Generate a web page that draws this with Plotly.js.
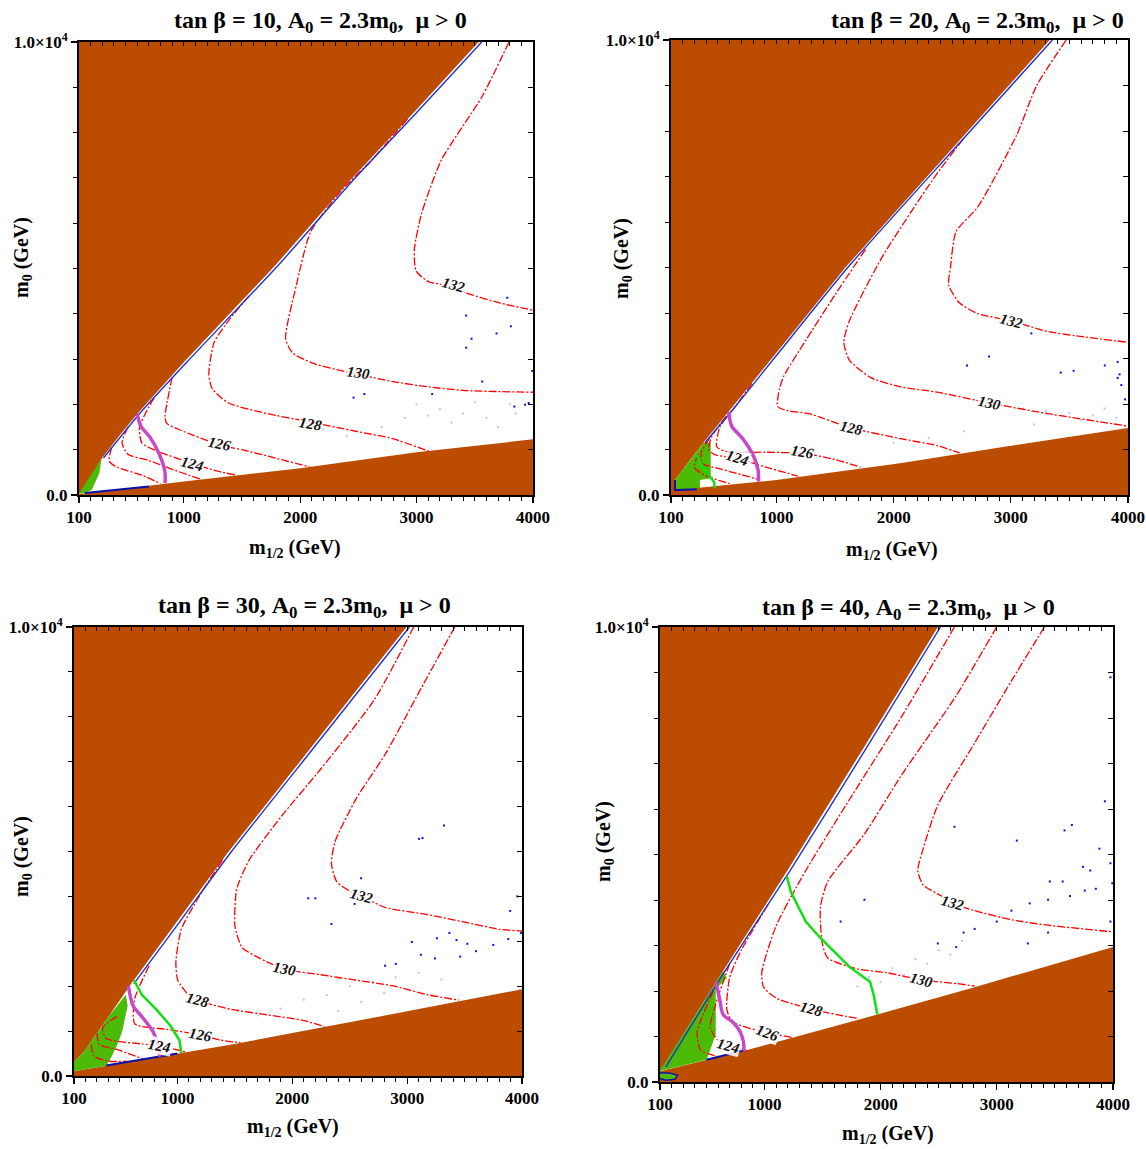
<!DOCTYPE html>
<html>
<head>
<meta charset="utf-8">
<script src="https://cdn.plot.ly/plotly-3.0.1.min.js"></script>
<style>html,body{margin:0;padding:0;background:#fff;}#plot{width:1146px;height:1149px;}</style>
</head>
<body>
<div id="plot"></div>
<script>
// ---------------- axis / label data ----------------
const X_RANGE = [100, 4000];
const Y_RANGE = [0, 10000];
const xTickVals = [100, 1000, 2000, 3000, 4000];
const xTickText = ["100", "1000", "2000", "3000", "4000"];
const yTickVals = [0, 10000];
const yTickText = ["0.0", "1.0×10<sup>4</sup>"];
const tanBeta = ["10", "20", "30", "40"];
const contourLevels = ["124", "126", "128", "130", "132"];

// ---------------- panel 1 : tan beta = 10 ----------------
const p1UpperX = [100, 150, 298, 450, 607, 1000, 1783, 2412, 3000, 3533];
const p1UpperY = [30, 150, 817, 1320, 1810, 2930, 5060, 6900, 8510, 10000];
const p1LowerX = [100, 500, 1000, 2000, 3000, 4000];
const p1LowerY = [15, 140, 300, 590, 945, 1228];
const p1GreenX = [100, 294, 275, 237, 209, 140, 100];
const p1GreenY = [30, 810, 479, 258, 110, 40, 20];
const p1MagX = [600, 631, 708, 785, 837, 840];
const p1MagY = [1795, 1520, 1283, 929, 535, 260];
const p1LimeX = [];
const p1LimeY = [];
const p1StripX = [310, 625, 1025, 1808, 2437, 3025, 3560];
const p1StripY = [817, 1810, 2930, 5060, 6900, 8510, 10000];
const p1BotX = [150, 400, 700];
const p1BotY = [45, 110, 185];
const p1C120X = [380, 360, 420, 650, 800];
const p1C120Y = [1050, 750, 620, 430, 250];
const p1C122X = [520, 470, 520, 700, 950, 1150];
const p1C122Y = [1500, 1150, 900, 760, 520, 345];
const p1C124X = [745, 620, 640, 760, 1077, 1300, 1450];
const p1C124Y = [2150, 1500, 1150, 980, 693, 520, 440];
const p1C126X = [900, 839, 853, 968, 1311, 1509, 1741, 2080];
const p1C126Y = [2600, 1729, 1583, 1435, 1104, 994, 846, 620];
const p1C128X = [1560, 1400, 1261, 1215, 1245, 1384, 1721, 2029, 2489, 2796, 3103];
const p1C128Y = [4394, 3900, 3370, 2661, 2346, 2031, 1795, 1638, 1402, 1244, 968];
const p1C130X = [2920, 2612, 2366, 2090, 1967, 1875, 1936, 2121, 2428, 2796, 3103, 3410, 4000];
const p1C130Y = [8300, 7386, 6756, 5811, 4630, 3449, 3134, 2898, 2701, 2504, 2386, 2307, 2268];
const p1C132X = [3794, 3564, 3211, 3042, 2981, 2996, 3103, 3257, 3410, 3718, 4000];
const p1C132Y = [10000, 8803, 7386, 6205, 5417, 4945, 4709, 4630, 4472, 4236, 4079];
const p1LabelX = [1077, 1307, 2090, 2505, 3318];
const p1LabelY = [693, 1126, 1559, 2701, 4630];
const p1DotX = [3779, 3426, 3810, 3687, 3472, 3426, 3994, 2459, 2551, 3134, 3564, 3840, 3932, 3963];
const p1DotY = [4354, 3961, 3724, 3567, 3449, 3252, 2740, 2150, 2228, 2228, 2504, 1953, 1992, 2031];
const p1FaintX = [3000, 3200, 3400, 3600, 3300, 3700, 3850, 2900, 2700, 2400, 3500, 3800, 2200, 3100];
const p1FaintY = [2000, 1900, 1800, 1700, 1600, 1500, 1800, 1700, 1500, 1300, 2050, 2000, 1450, 1750];

// ---------------- panel 2 : tan beta = 20 ----------------
const p2UpperX = [100, 125, 134, 305, 376, 598, 1000, 1590, 2500, 3332];
const p2UpperY = [0, 40, 330, 901, 1150, 1853, 3131, 5004, 7616, 10000];
const p2LowerX = [100, 149, 1000, 2054, 3000, 4000];
const p2LowerY = [60, 110, 330, 697, 1080, 1472];
const p2GreenX = [134, 134, 305, 376, 439, 439, 347, 347, 149];
const p2GreenY = [110, 330, 901, 1150, 1150, 367, 330, 147, 110];
const p2MagX = [593, 618, 712, 806, 844, 847];
const p2MagY = [1827, 1514, 1239, 847, 533, 298];
const p2LimeX = [315, 362, 433, 467, 475];
const p2LimeY = [890, 659, 402, 292, 147];
const p2StripX = [390, 620, 1020, 1610, 2520, 3355];
const p2StripY = [1150, 1853, 3131, 5004, 7616, 10000];
const p2BotX = [134, 134, 149, 320];
const p2BotY = [330, 110, 110, 125];
const p2C120X = [330, 300, 400, 600];
const p2C120Y = [900, 600, 420, 250];
const p2C122X = [430, 360, 360, 450, 700, 850];
const p2C122Y = [1250, 950, 700, 620, 450, 340];
const p2C124X = [570, 450, 420, 480, 665, 900, 1182];
const p2C124Y = [1730, 1300, 1000, 880, 808, 620, 416];
const p2C126X = [790, 650, 518, 490, 575, 900, 1229, 1500, 1716];
const p2C126Y = [2450, 1950, 1501, 1062, 952, 940, 916, 780, 612];
const p2C128X = [1760, 1500, 1250, 1060, 1026, 1010, 1100, 1277, 1637, 2061, 2375, 2563];
const p2C128Y = [5400, 4400, 3400, 2600, 2337, 1945, 1850, 1788, 1474, 1239, 1082, 925];
const p2C130X = [2594, 2343, 1904, 1622, 1575, 1622, 1810, 2061, 2375, 2814, 3316, 4000];
const p2C130Y = [7827, 6964, 5239, 3827, 3357, 2965, 2573, 2376, 2259, 2023, 1788, 1514];
const p2C132X = [3473, 3222, 3049, 2720, 2532, 2485, 2469, 2563, 2720, 3002, 3316, 3630, 4000];
const p2C132Y = [10000, 9004, 7906, 6337, 5788, 5004, 4612, 4220, 3984, 3827, 3592, 3474, 3357];
const p2LabelX = [665, 1220, 1637, 2814, 3002];
const p2LabelY = [808, 941, 1474, 2023, 3827];
const p2DotX = [3175, 2814, 2626, 3426, 3536, 3802, 3912, 3928, 3943, 3912, 3975];
const p2DotY = [3553, 3043, 2847, 2690, 2729, 2847, 2925, 2651, 2416, 2573, 2102];
const p2FaintX = [2900, 3100, 3300, 3500, 3700, 3900, 3200, 3600, 2600, 2300, 3800, 2000];
const p2FaintY = [2000, 1900, 1850, 1800, 1750, 1700, 1550, 1650, 1400, 1250, 1900, 1150];

// ---------------- panel 3 : tan beta = 30 ----------------
const p3UpperX = [100, 193, 400, 598, 1000, 1438, 2200, 2995];
const p3UpperY = [300, 560, 1322, 2052, 3451, 4972, 7433, 10000];
const p3LowerX = [100, 1500, 2750, 4000];
const p3LowerY = [105, 714, 1322, 1930];
const p3GreenX = [100, 100, 193, 400, 551, 567, 520, 473, 411, 380, 100];
const p3GreenY = [105, 300, 560, 1322, 1809, 1565, 998, 673, 349, 227, 105];
const p3MagX = [573, 614, 691, 785, 831, 847];
const p3MagY = [2011, 1565, 1322, 998, 673, 430];
const p3LimeX = [623, 691, 816, 940, 1018, 1034];
const p3LimeY = [2133, 1809, 1484, 1119, 795, 511];
const p3StripX = [620, 1025, 1463, 2225, 3020];
const p3StripY = [2052, 3451, 4972, 7433, 10000];
const p3BotX = [380, 1000];
const p3BotY = [235, 500];
const p3C120X = [250, 270, 400, 560];
const p3C120Y = [700, 450, 330, 330];
const p3C122X = [300, 320, 473, 700];
const p3C122Y = [950, 700, 592, 380];
const p3C124X = [473, 349, 380, 691, 847, 1065];
const p3C124Y = [1322, 1079, 835, 714, 673, 540];
const p3C126X = [754, 629, 629, 909, 1205, 1376, 1550];
const p3C126Y = [2457, 1727, 1160, 1038, 916, 800, 740];
const p3C128X = [1392, 1189, 1034, 987, 1003, 1096, 1174, 1469, 1781, 2092, 2280];
const p3C128Y = [4809, 3998, 3268, 2538, 2133, 1809, 1687, 1484, 1362, 1241, 1100];
const p3C130X = [3057, 2714, 2248, 1905, 1625, 1516, 1501, 1563, 1718, 1936, 2248, 2559, 2870, 3181, 3450];
const p3C130Y = [10000, 8378, 6837, 5782, 4809, 4160, 3349, 2863, 2620, 2376, 2255, 2133, 2011, 1809, 1690];
const p3C132X = [3415, 3119, 2808, 2559, 2372, 2341, 2388, 2528, 2606, 2808, 3181, 3493, 3804, 4000];
const p3C132Y = [10000, 8621, 7161, 6188, 5215, 4728, 4323, 4079, 3998, 3755, 3593, 3431, 3268, 3228];
const p3LabelX = [847, 1205, 1174, 1936, 2606];
const p3LabelY = [673, 916, 1687, 2376, 3998];
const p3DotX = [3321, 3103, 3134, 2599, 2139, 2201, 2341, 2543, 3959, 3897, 3368, 3430, 3259, 3524, 3041, 3119, 3243, 2808, 2901, 3462, 3600, 3750, 3880, 3991];
const p3DotY = [5580, 5282, 5299, 4404, 3958, 3958, 3387, 3833, 4000, 3677, 3187, 3025, 3068, 2944, 2984, 2701, 2619, 2457, 2498, 2660, 2780, 2920, 3050, 3187];
const p3FaintX = [2500, 2700, 2900, 3100, 2300, 2100, 1900, 2600, 2800, 3300, 1700, 2400];
const p3FaintY = [2000, 2100, 2200, 2300, 1800, 1700, 1500, 1650, 1850, 2150, 1350, 1450];

// ---------------- panel 4 : tan beta = 40 ----------------
const p4UpperX = [100, 122, 644, 1197, 1850, 2492];
const p4UpperY = [250, 320, 2444, 4648, 7332, 10000];
const p4LowerX = [100, 817, 1971, 2808, 4000];
const p4LowerY = [235, 681, 1482, 2083, 2965];
const p4GreenX = [100, 644, 675, 580, 580, 533, 501, 100];
const p4GreenY = [250, 2444, 2284, 2043, 1042, 721, 487, 240];
const p4BlobX = [100, 180, 250, 230, 150, 100];
const p4BlobY = [200, 200, 150, 60, 40, 80];
const p4MagX = [580, 612, 644, 723, 786, 818, 824];
const p4MagY = [2204, 1843, 1482, 1322, 1122, 881, 681];
const p4LimeX = [1190, 1228, 1355, 1481, 1734, 1908, 1939, 1971];
const p4LimeY = [4527, 4167, 3526, 3165, 2524, 2204, 1923, 1482];
const p4StripX = [150, 660, 1220, 1875, 2515];
const p4StripY = [330, 2444, 4648, 7332, 10000];
const p4BotX = [501, 830];
const p4BotY = [490, 700];
const p4C122X = [560, 420, 450, 600];
const p4C122Y = [2000, 1100, 700, 560];
const p4C124X = [700, 596, 533, 596, 691, 849];
const p4C124Y = [2600, 1843, 1202, 921, 801, 690];
const p4C126X = [1030, 800, 700, 675, 723, 1023, 1250];
const p4C126Y = [3900, 2900, 2300, 1603, 1322, 1082, 975];
const p4C128X = [2635, 2176, 1702, 1355, 1102, 976, 992, 1102, 1402, 1702, 1810];
const p4C128Y = [10000, 8013, 6090, 4648, 3446, 2404, 2083, 1843, 1603, 1442, 1400];
const p4C130X = [2998, 2651, 2176, 1860, 1544, 1481, 1497, 1544, 1797, 2050, 2350, 2650, 2809];
const p4C130Y = [10000, 8494, 6731, 5449, 4407, 3846, 3045, 2724, 2484, 2404, 2244, 2164, 2110];
const p4C132X = [3409, 3125, 2809, 2492, 2366, 2319, 2366, 2524, 2619, 2809, 3125, 3441, 4000];
const p4C132Y = [10000, 8814, 7452, 6090, 5128, 4648, 4327, 4087, 3926, 3766, 3566, 3446, 3300];
const p4LabelX = [691, 1023, 1402, 2350, 2619];
const p4LabelY = [801, 1082, 1603, 2244, 3926];
const p4DotX = [3978, 3930, 3646, 3583, 3172, 3883, 3978, 2635, 3456, 3567, 1860, 1655, 3804, 3741, 3994, 3757, 3852, 3630, 3441, 3283, 3125, 2999, 2809, 2714, 2650, 2492, 3267, 3441, 3978];
const p4DotY = [8894, 6170, 5649, 5529, 5305, 5128, 4808, 5609, 4407, 4407, 4006, 3526, 4648, 4728, 4367, 4207, 4247, 4087, 4006, 3926, 3766, 3526, 3365, 3285, 2965, 3045, 3045, 3285, 3526];
const p4FaintX = [2300, 2500, 2100, 1900, 2700, 2400, 2200, 2000, 1800, 2600];
const p4FaintY = [2700, 2900, 2500, 2300, 3100, 2600, 2350, 2200, 2100, 2800];

// ---------------- assemble ----------------
const panels = [
  {upX:p1UpperX, upY:p1UpperY, loX:p1LowerX, loY:p1LowerY, grX:p1GreenX, grY:p1GreenY,
   mgX:p1MagX, mgY:p1MagY, lmX:p1LimeX, lmY:p1LimeY, stX:p1StripX, stY:p1StripY, btX:p1BotX, btY:p1BotY,
   cont:[[p1C120X,p1C120Y],[p1C122X,p1C122Y],[p1C124X,p1C124Y],[p1C126X,p1C126Y],[p1C128X,p1C128Y],[p1C130X,p1C130Y],[p1C132X,p1C132Y]],
   lbX:p1LabelX, lbY:p1LabelY, dX:p1DotX, dY:p1DotY, fX:p1FaintX, fY:p1FaintY},
  {upX:p2UpperX, upY:p2UpperY, loX:p2LowerX, loY:p2LowerY, grX:p2GreenX, grY:p2GreenY,
   mgX:p2MagX, mgY:p2MagY, lmX:p2LimeX, lmY:p2LimeY, stX:p2StripX, stY:p2StripY, btX:p2BotX, btY:p2BotY,
   cont:[[p2C120X,p2C120Y],[p2C122X,p2C122Y],[p2C124X,p2C124Y],[p2C126X,p2C126Y],[p2C128X,p2C128Y],[p2C130X,p2C130Y],[p2C132X,p2C132Y]],
   lbX:p2LabelX, lbY:p2LabelY, dX:p2DotX, dY:p2DotY, fX:p2FaintX, fY:p2FaintY},
  {upX:p3UpperX, upY:p3UpperY, loX:p3LowerX, loY:p3LowerY, grX:p3GreenX, grY:p3GreenY,
   mgX:p3MagX, mgY:p3MagY, lmX:p3LimeX, lmY:p3LimeY, stX:p3StripX, stY:p3StripY, btX:p3BotX, btY:p3BotY,
   cont:[[p3C120X,p3C120Y],[p3C122X,p3C122Y],[p3C124X,p3C124Y],[p3C126X,p3C126Y],[p3C128X,p3C128Y],[p3C130X,p3C130Y],[p3C132X,p3C132Y]],
   lbX:p3LabelX, lbY:p3LabelY, dX:p3DotX, dY:p3DotY, fX:p3FaintX, fY:p3FaintY},
  {upX:p4UpperX, upY:p4UpperY, loX:p4LowerX, loY:p4LowerY, grX:p4GreenX, grY:p4GreenY,
   mgX:p4MagX, mgY:p4MagY, lmX:p4LimeX, lmY:p4LimeY, stX:p4StripX, stY:p4StripY, btX:p4BotX, btY:p4BotY,
   blX:p4BlobX, blY:p4BlobY,
   cont:[[p4C122X,p4C122Y],[p4C124X,p4C124Y],[p4C126X,p4C126Y],[p4C128X,p4C128Y],[p4C130X,p4C130Y],[p4C132X,p4C132Y]],
   lbX:p4LabelX, lbY:p4LabelY, dX:p4DotX, dY:p4DotY, fX:p4FaintX, fY:p4FaintY}
];

// layout geometry (pixels)
const W = 1146, H = 1149;
const frames = [
  {l:79, r:533, t:42, b:495},
  {l:671, r:1128, t:40, b:495},
  {l:74, r:522, t:627, b:1076},
  {l:660, r:1113, t:627, b:1082}
];
const titlePos = [[320, 22], [977, 22], [304, 607], [908, 609]];
const xTitlePos = [[295, 548], [892, 550], [293, 1127], [888, 1134]];
const yTitlePos = [[22, 258], [622, 259], [22, 857], [604, 842]];
const labelAngles = [[14, 12, 10, 8, 15], [18, 10, 12, 12, 15], [10, 10, 15, 10, 15], [15, 20, 15, 15, 15]];

const SERIF = 'Liberation Serif, Times New Roman, serif';
const BROWN = '#BC4C00';
const GREEN = '#4CBB08';
const RED = '#FF0000';

const fx = p => p / W;
const fy = p => 1 - p / H;

const traces = [];
const layout = {
  width: W, height: H,
  margin: {l:0, r:0, t:0, b:0},
  paper_bgcolor: '#fff', plot_bgcolor: '#fff',
  showlegend: false,
  font: {family: SERIF, color: '#000'},
  annotations: []
};

panels.forEach((p, i) => {
  const n = i + 1;
  const xa = 'x' + (n === 1 ? '' : n), ya = 'y' + (n === 1 ? '' : n);
  const xTop = 'x' + (n + 4), yRight = 'y' + (n + 4);
  const fr = frames[i];
  const base = {xaxis: xa, yaxis: ya, hoverinfo: 'skip', showlegend: false};

  // excluded regions
  traces.push(Object.assign({type:'scatter', mode:'lines', fill:'toself', fillcolor:BROWN,
    line:{width:0, color:BROWN},
    x: p.upX.concat([X_RANGE[0]]), y: p.upY.concat([Y_RANGE[1]])}, base));
  traces.push(Object.assign({type:'scatter', mode:'lines', fill:'toself', fillcolor:BROWN,
    line:{width:0, color:BROWN},
    x: p.loX.concat([X_RANGE[1], X_RANGE[0]]), y: p.loY.concat([Y_RANGE[0], Y_RANGE[0]])}, base));
  // green shaded region
  traces.push(Object.assign({type:'scatter', mode:'lines', fill:'toself', fillcolor:GREEN,
    line:{width:0, color:GREEN}, x: p.grX, y: p.grY}, base));
  if (p.blX) {
    traces.push(Object.assign({type:'scatter', mode:'lines', fill:'toself', fillcolor:GREEN,
      line:{width:1.5, color:'#1010B0'}, x: p.blX, y: p.blY}, base));
  }
  // faint and blue dots
  traces.push(Object.assign({type:'scatter', mode:'markers', x:p.fX, y:p.fY,
    marker:{size:2, color:'rgba(120,120,230,0.45)', symbol:'square'}}, base));
  traces.push(Object.assign({type:'scatter', mode:'markers', x:p.dX, y:p.dY,
    marker:{size:2, color:'#1010E0', symbol:'square'}}, base));
  // Higgs mass contours
  p.cont.forEach(c => {
    traces.push(Object.assign({type:'scatter', mode:'lines', x:c[0], y:c[1],
      line:{color:RED, width:1.3, dash:'8px,2px,2px,2px', shape:'spline', smoothing:0.6}}, base));
  });
  // blue strips
  traces.push(Object.assign({type:'scatter', mode:'lines', x:p.stX, y:p.stY,
    line:{color:'#2030D0', width:1.4, shape:'spline', smoothing:0.5}}, base));
  traces.push(Object.assign({type:'scatter', mode:'lines', x:p.btX, y:p.btY,
    line:{color:'#0A10A8', width:2}}, base));
  // magenta and lime lines
  traces.push(Object.assign({type:'scatter', mode:'lines', x:p.mgX, y:p.mgY,
    line:{color:'#C848C8', width:3.5, shape:'spline', smoothing:0.8}}, base));
  if (p.lmX.length) {
    traces.push(Object.assign({type:'scatter', mode:'lines', x:p.lmX, y:p.lmY,
      line:{color:'#10E010', width:2.5}}, base));
  }
  // dummy traces to activate mirror axes (top / right, inward ticks)
  traces.push({type:'scatter', mode:'markers', x:[X_RANGE[0]], y:[Y_RANGE[0]], xaxis:xTop, yaxis:ya,
    marker:{opacity:0}, hoverinfo:'skip', showlegend:false});
  traces.push({type:'scatter', mode:'markers', x:[X_RANGE[0]], y:[Y_RANGE[0]], xaxis:xa, yaxis:yRight,
    marker:{opacity:0}, hoverinfo:'skip', showlegend:false});

  const xdom = [fx(fr.l), fx(fr.r)], ydom = [fy(fr.b), fy(fr.t)];
  layout['xaxis' + (n === 1 ? '' : n)] = {
    domain: xdom, anchor: ya, range: X_RANGE.slice(), fixedrange: true,
    tickmode: 'array', tickvals: xTickVals, ticktext: xTickText,
    ticks: 'outside', ticklen: 6, tickwidth: 1.2, tickcolor: '#000',
    minor: {tickmode: 'linear', tick0: 100, dtick: 100, ticks: 'outside', ticklen: 4, tickwidth: 1, tickcolor: '#000', showgrid: false},
    showline: true, linewidth: 2, linecolor: '#000', mirror: true,
    showgrid: false, zeroline: false,
    tickfont: {family: SERIF, size: 17, weight: 'bold', color: '#000'}
  };
  layout['yaxis' + (n === 1 ? '' : n)] = {
    domain: ydom, anchor: xa, range: Y_RANGE.slice(), fixedrange: true,
    tickmode: 'array', tickvals: yTickVals, ticktext: yTickText,
    ticks: 'outside', ticklen: 6, tickwidth: 1.2, tickcolor: '#000',
    minor: {tickmode: 'linear', tick0: 0, dtick: 1000, ticks: 'outside', ticklen: 4, tickwidth: 1, tickcolor: '#000', showgrid: false},
    showline: true, linewidth: 2, linecolor: '#000', mirror: true,
    showgrid: false, zeroline: false,
    tickfont: {family: SERIF, size: 17, weight: 'bold', color: '#000'}
  };
  layout['xaxis' + (n + 4)] = {
    overlaying: xa, anchor: ya, side: 'top', range: X_RANGE.slice(), fixedrange: true,
    tickmode: 'linear', tick0: 100, dtick: 100, ticks: 'inside', ticklen: 4, tickwidth: 1, tickcolor: '#000',
    showticklabels: false, showline: false, showgrid: false, zeroline: false
  };
  layout['yaxis' + (n + 4)] = {
    overlaying: ya, anchor: xa, side: 'right', range: Y_RANGE.slice(), fixedrange: true,
    tickmode: 'linear', tick0: 0, dtick: 1000, ticks: 'inside', ticklen: 5, tickwidth: 1, tickcolor: '#000',
    showticklabels: false, showline: false, showgrid: false, zeroline: false
  };

  // titles
  layout.annotations.push({
    xref:'paper', yref:'paper', x: fx(titlePos[i][0]), y: fy(titlePos[i][1]),
    xanchor:'center', yanchor:'middle', showarrow:false,
    text: 'tan β = ' + tanBeta[i] + ', A<sub>0</sub> = 2.3m<sub>0</sub>,\u00A0 μ > 0',
    font: {family: SERIF, size: 24, weight: 'bold', color: '#000'}
  });
  layout.annotations.push({
    xref:'paper', yref:'paper', x: fx(xTitlePos[i][0]), y: fy(xTitlePos[i][1]),
    xanchor:'center', yanchor:'middle', showarrow:false,
    text: 'm<sub>1/2</sub> (GeV)',
    font: {family: SERIF, size: 20, weight: 'bold', color: '#000'}
  });
  layout.annotations.push({
    xref:'paper', yref:'paper', x: fx(yTitlePos[i][0]), y: fy(yTitlePos[i][1]),
    xanchor:'center', yanchor:'middle', showarrow:false, textangle: -90,
    text: 'm<sub>0</sub> (GeV)',
    font: {family: SERIF, size: 20, weight: 'bold', color: '#000'}
  });
  // contour labels
  contourLevels.forEach((lv, k) => {
    layout.annotations.push({
      xref: xa, yref: ya, x: p.lbX[k], y: p.lbY[k], showarrow: false,
      text: '<i>' + lv + '</i>', textangle: labelAngles[i][k],
      bgcolor: 'rgba(255,255,255,0.85)', borderpad: 0,
      font: {family: SERIF, size: 15, weight: 'bold', color: '#111'}
    });
  });
});

Plotly.newPlot('plot', traces, layout, {staticPlot: true, displayModeBar: false});
</script>
</body>
</html>
